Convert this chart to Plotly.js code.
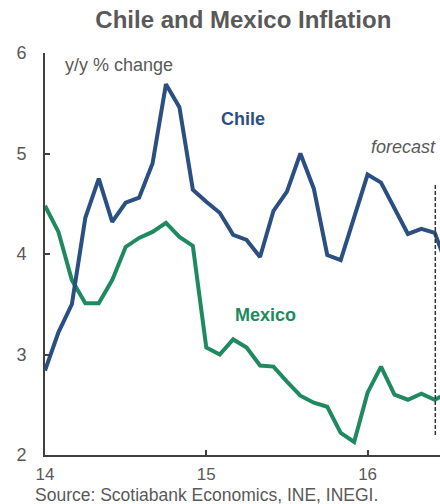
<!DOCTYPE html>
<html>
<head>
<meta charset="utf-8">
<script src="https://cdn.plot.ly/plotly-3.0.1.min.js"></script>
<style>
  html, body { margin: 0; padding: 0; background: #fff; }
  #chart { width: 440px; height: 504px; }
</style>
</head>
<body>
<div id="chart"></div>
<script>
// Monthly observations, Jan 2014 onward (month index from Jan 2014)
const monthIndex = [0,1,2,3,4,5,6,7,8,9,10,11,12,13,14,15,16,17,18,19,20,21,22,23,24,25,26,27,28,29,30];
const chile = [2.84,3.22,3.50,4.36,4.75,4.32,4.51,4.56,4.90,5.69,5.46,4.64,4.52,4.41,4.19,4.14,3.97,4.43,4.62,5.00,4.65,3.99,3.94,4.37,4.79,4.71,4.46,4.20,4.25,4.21,3.85];
const mexico = [4.48,4.22,3.74,3.51,3.51,3.74,4.07,4.16,4.22,4.31,4.17,4.08,3.07,3.00,3.15,3.07,2.89,2.88,2.73,2.59,2.52,2.48,2.22,2.13,2.62,2.88,2.60,2.55,2.61,2.55,2.62];
const xTickVals = [14, 15, 16];
const xTickText = ["14", "15", "16"];
const yTickVals = [2, 3, 4, 5, 6];
const yTickText = ["2", "3", "4", "5", "6"];
const forecastStart = 16.42;

const startYear = 14;
const xYears = monthIndex.map(m => startYear + m / 12);

const gray = "#595959";
const axisCol = "#404040";
const font = "Liberation Sans, Arial, sans-serif";

const traces = [
  { x: xYears, y: mexico, type: "scatter", mode: "lines", name: "Mexico",
    line: { color: "#1f8a60", width: 4 }, hoverinfo: "skip" },
  { x: xYears, y: chile, type: "scatter", mode: "lines", name: "Chile",
    line: { color: "#2b4f80", width: 4 }, hoverinfo: "skip" }
];

const layout = {
  width: 440, height: 504,
  margin: { l: 45, r: 0, t: 53, b: 49 },
  paper_bgcolor: "#fff", plot_bgcolor: "#fff",
  showlegend: false,
  font: { family: font, color: gray, size: 18 },
  title: {
    text: "<b>Chile and Mexico Inflation</b>",
    font: { family: font, size: 24, color: gray },
    x: 0.553, xanchor: "center", xref: "container",
    y: 0.962, yanchor: "middle", yref: "container"
  },
  xaxis: {
    range: [14, 16.449], tickvals: xTickVals, ticktext: xTickText,
    ticks: "inside", ticklen: 5, tickwidth: 2, tickcolor: axisCol,
    showline: true, linecolor: axisCol, linewidth: 2,
    showgrid: false, zeroline: false, fixedrange: true,
    ticklabelstandoff: 3,
    tickfont: { family: font, size: 17, color: gray }
  },
  yaxis: {
    range: [2, 6], tickvals: yTickVals, ticktext: yTickText,
    ticks: "inside", ticklen: 5, tickwidth: 2, tickcolor: axisCol,
    showline: true, linecolor: axisCol, linewidth: 2,
    showgrid: false, zeroline: false, fixedrange: true,
    ticklabelstandoff: 13,
    tickfont: { family: font, size: 18, color: gray }
  },
  shapes: [
    { type: "line", xref: "x", yref: "y", x0: forecastStart, x1: forecastStart, y0: 2.2, y1: 4.70,
      line: { color: "#333", width: 1.5, dash: "4px,2px" } }
  ],
  annotations: [
    { text: "y/y % change", xref: "x", yref: "y", x: 14.11, y: 5.88, xanchor: "left", yanchor: "middle",
      showarrow: false, font: { family: font, size: 18, color: gray } },
    { text: "<b>Chile</b>", xref: "x", yref: "y", x: 15.23, y: 5.34, xanchor: "center", yanchor: "middle",
      showarrow: false, font: { family: font, size: 18, color: "#2b4f80" } },
    { text: "<b>Mexico</b>", xref: "x", yref: "y", x: 15.37, y: 3.39, xanchor: "center", yanchor: "middle",
      showarrow: false, font: { family: font, size: 18, color: "#1f8a60" } },
    { text: "<i>forecast</i>", xref: "paper", yref: "y", x: 0.995, y: 5.06, xanchor: "right", yanchor: "middle",
      showarrow: false, font: { family: font, size: 18, color: gray } },
    { text: "Source: Scotiabank Economics, INE, INEGI.", xref: "paper", yref: "paper",
      x: -0.0304, y: -0.1, xanchor: "left", yanchor: "middle",
      showarrow: false, font: { family: font, size: 17.5, color: gray } }
  ]
};

Plotly.newPlot("chart", traces, layout, { displayModeBar: false, staticPlot: true });
</script>
</body>
</html>
